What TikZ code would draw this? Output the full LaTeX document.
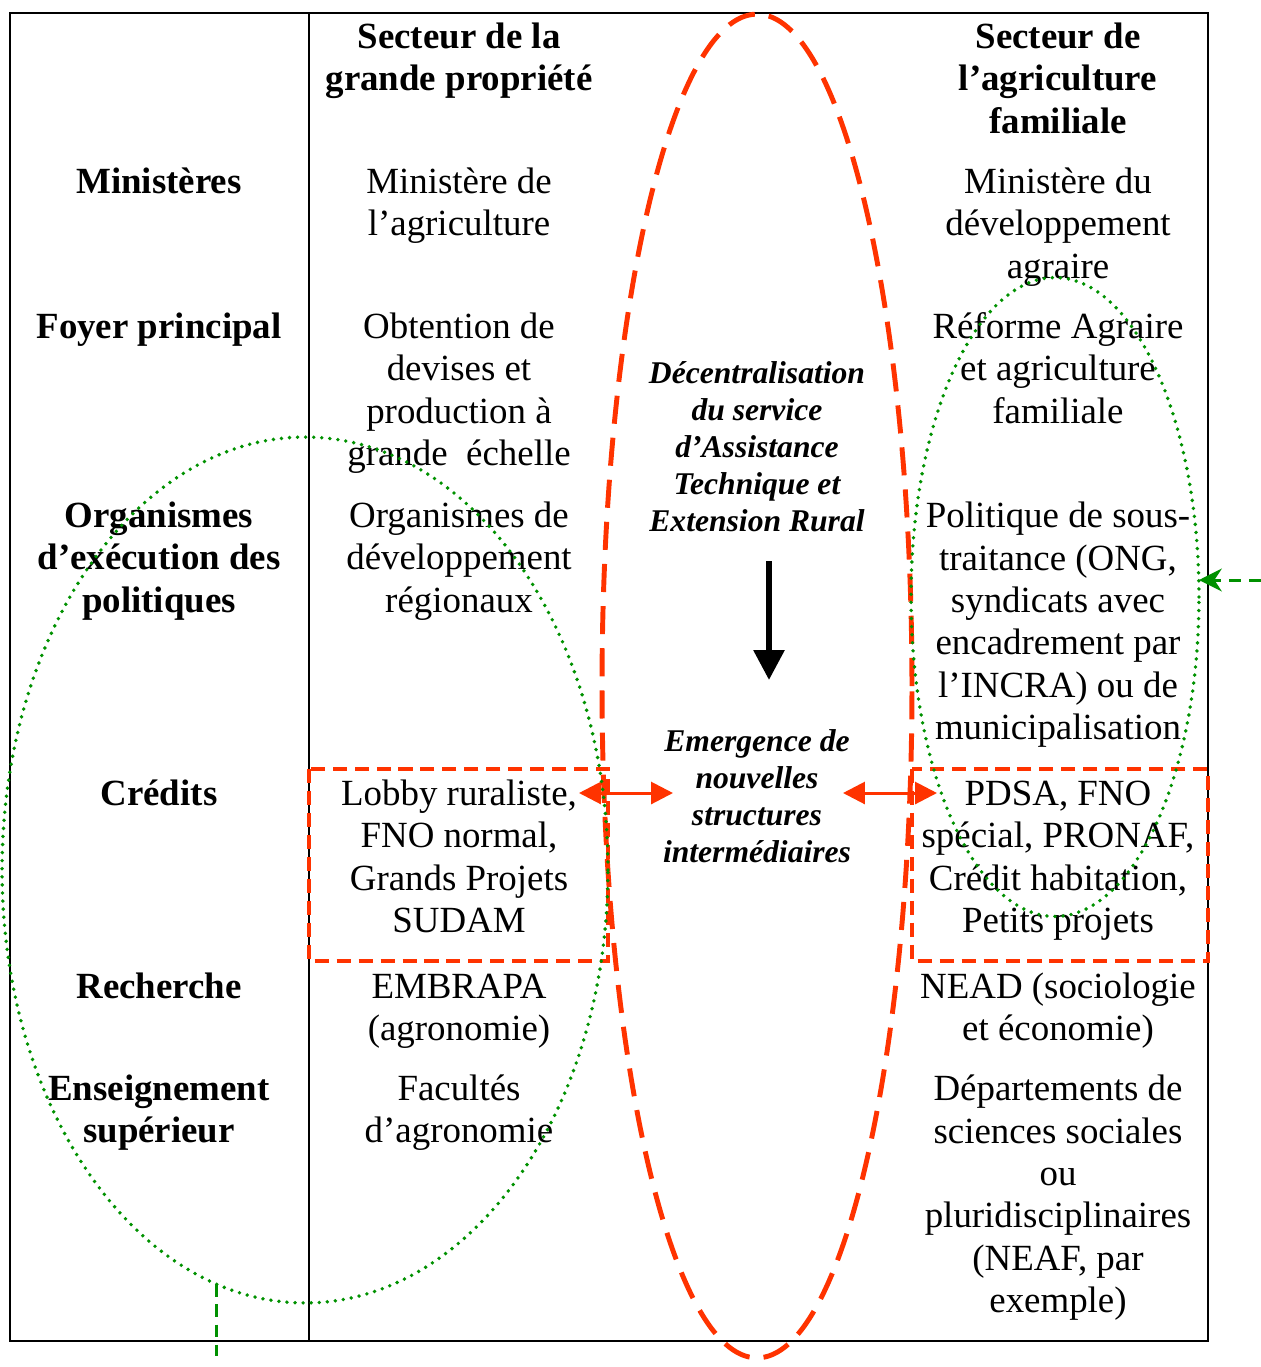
\documentclass[tikz,border=0pt]{standalone}
\usepackage{fontspec}
\setmainfont{Liberation Serif}
\usetikzlibrary{shapes.geometric,arrows.meta}
\definecolor{rougeflux}{RGB}{255,51,0}
\definecolor{vertzone}{RGB}{0,145,0}

\begin{document}
\begin{tikzpicture}[x=0.02cm,y=-0.02cm,
    cell/.style={align=center,anchor=base,inner sep=0pt,font=\fontsize{21}{24.1}\selectfont},
    head/.style={cell,font=\fontsize{21}{24.1}\selectfont\bfseries},
    mid/.style={align=center,anchor=base,inner sep=0pt,font=\fontsize{18}{21}\selectfont\bfseries\itshape},
    redzone/.style={ellipse,draw=rougeflux,line width=2.8pt,dash pattern=on 16pt off 8pt,inner sep=0pt,outer sep=0pt},
    greenzone/.style={ellipse,draw=vertzone,line width=2.2pt,line cap=round,dash pattern=on 0pt off 4.6pt,inner sep=0pt,outer sep=0pt},
    redbox/.style={draw=rougeflux,line width=1.8pt,dash pattern=on 8pt off 4.5pt},
    linkarrow/.style={rougeflux,line width=1.7pt,{Triangle[length=12.5pt,width=12.5pt]}-{Triangle[length=12.5pt,width=12.5pt]}},
    downarrow/.style={line width=3.4pt,-{Triangle[length=17pt,width=17pt]}},
    pointer/.style={vertzone,line width=1.7pt,dash pattern=on 7pt off 4.5pt,-{Stealth[length=13pt,width=13pt]}}]
    \useasboundingbox (0,0) rectangle (1261,1367);

    % table frame
    \draw[line width=1.5pt] (10,13) rectangle (1208,1341);
    \draw[line width=1.5pt] (309,13) -- (309,1341);

    % column headers (placed at the baseline of the last line)
    \node[head] (grande) at (459,90.5) {Secteur de la\\grande propriété};
    \node[head] (famille) at (1058,133) {Secteur de\\l’agriculture\\familiale};

    % row labels
    \node[head] (minist) at (159,193) {Ministères};
    \node[head] (foyer) at (159,338) {Foyer principal};
    \node[head] (organ) at (159,612) {Organismes\\d’exécution des\\politiques};
    \node[head] (credit) at (159,805) {Crédits};
    \node[head] (recher) at (159,998) {Recherche};
    \node[head] (enseig) at (159,1142.5) {Enseignement\\supérieur};

    % grande propriete
    \node[cell] (gminist) at (459,235.5) {Ministère de\\l’agriculture};
    \node[cell] (gfoyer) at (459,465.5) {Obtention de\\devises et\\production à\\grande\ \ échelle};
    \node[cell] (gorgan) at (459,612) {Organismes de\\développement\\régionaux};
    \node[cell] (gcredit) at (459,932.5) {Lobby ruraliste,\\FNO normal,\\Grands Projets\\SUDAM};
    \node[cell] (grecher) at (459,1040.5) {EMBRAPA\\(agronomie)};
    \node[cell] (genseig) at (459,1142.5) {Facultés\\d’agronomie};

    % agriculture familiale
    \node[cell] (fminist) at (1058,278) {Ministère du\\développement\\agraire};
    \node[cell] (ffoyer) at (1058,423) {Réforme Agraire\\et agriculture\\familiale};
    \node[cell] (forgan) at (1058,739.5) {Politique de sous-\\traitance (ONG,\\syndicats avec\\encadrement par\\l’INCRA) ou de\\municipalisation};
    \node[cell] (fcredit) at (1058,932.5) {PDSA, FNO\\spécial, PRONAF,\\Crédit habitation,\\Petits projets};
    \node[cell] (frecher) at (1058,1040.5) {NEAD (sociologie\\et économie)};
    \node[cell] (fenseig) at (1058,1312.5) {Départements de\\sciences sociales\\ou\\pluridisciplinaires\\(NEAF, par\\exemple)};

    % middle column
    \node[mid] (decentr) at (757,531) {Décentralisation\\du service\\d’Assistance\\Technique et\\Extension Rural};
    \node[mid] (emerg) at (757,862) {Emergence de\\nouvelles\\structures\\intermédiaires};
    \coordinate (flowtop) at (769,561);
    \coordinate (flowbot) at (769,680);
    \draw[downarrow] (flowtop) -- (flowbot);

    % credit boxes and links
    \draw[redbox] (309,769) rectangle (608,961);
    \draw[redbox] (912,769) rectangle (1208,961);
    \coordinate (lienA) at (579,793);
    \coordinate (lienB) at (673,793);
    \coordinate (lienC) at (843,793);
    \coordinate (lienD) at (937,793);
    \draw[linkarrow] (lienA) -- (lienB);
    \draw[linkarrow] (lienC) -- (lienD);

    % zones
    \node[redzone,minimum width=6.2cm,minimum height=26.88cm] (centre) at (757,686) {};
    \node[greenzone,minimum width=12.12cm,minimum height=17.32cm] (gauche) at (305,870) {};
    \node[greenzone,minimum width=5.76cm,minimum height=12.78cm] (droite) at (1055,597) {};

    \coordinate (bordD) at (1261,580);
    \coordinate (basG) at (216,1356);
    \draw[pointer] (bordD) -- (bordD -| droite.east);
    \draw[vertzone,line width=1.7pt,dash pattern=on 7pt off 4.5pt] (gauche.258) -- (gauche.258 |- basG);
\end{tikzpicture}
\end{document}
